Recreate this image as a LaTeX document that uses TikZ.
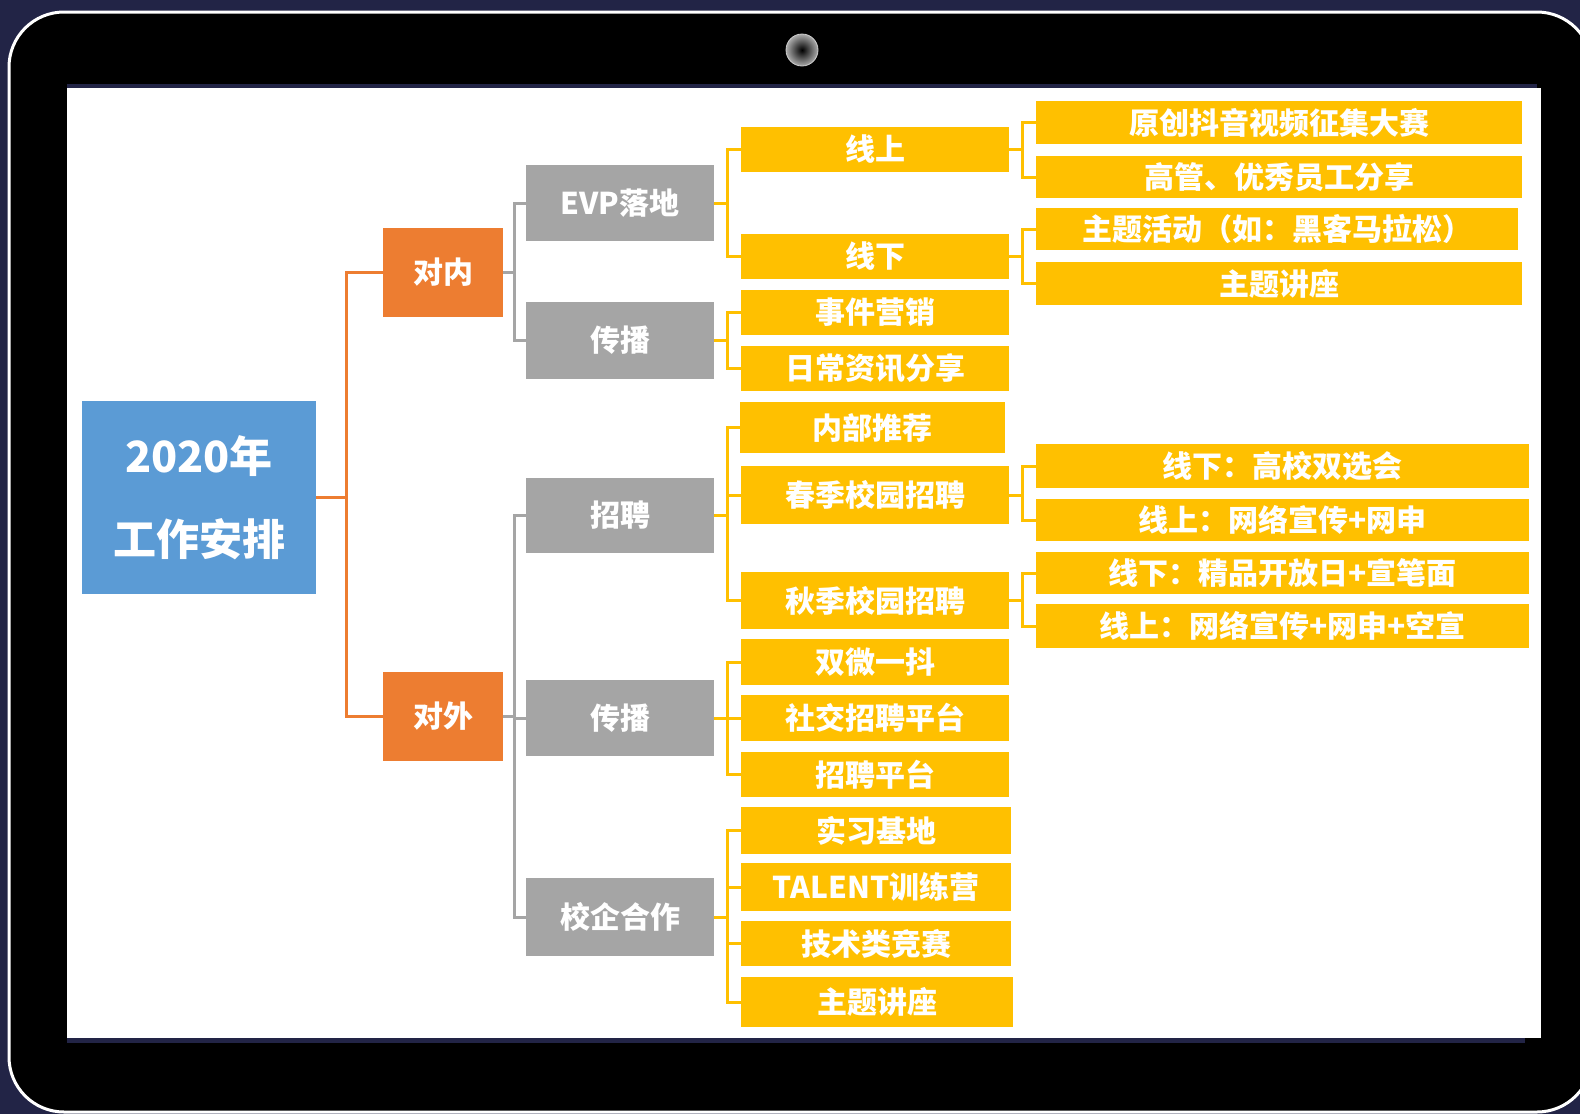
\documentclass[tikz,border=0pt]{standalone}
\usepackage{fontspec}
\setmainfont{Noto Sans CJK SC}

\definecolor{Navy}{RGB}{34,36,70}
\definecolor{RootBlue}{RGB}{91,155,213}
\definecolor{SideOrange}{RGB}{237,125,49}
\definecolor{GroupGray}{RGB}{165,165,165}
\definecolor{ItemYellow}{RGB}{255,192,0}

\begin{document}
\begin{tikzpicture}
	[x=0.5pt, y=-0.5pt,
	 box/.style={inner sep=0pt, text=white, font=\bfseries\fontsize{15}{18}\selectfont},
	 rootbox/.style={box, fill=RootBlue, align=center, font=\bfseries\fontsize{21.5}{26}\selectfont},
	 sidebox/.style={box, fill=SideOrange},
	 groupbox/.style={box, fill=GroupGray},
	 itembox/.style={box, fill=ItemYellow},
	 link/.style={line width=1.5pt}]

	\useasboundingbox (0,0) rectangle (1580,1114);

	% tablet
	\begin{scope}
		\clip (0,0) rectangle (1580,1114);
		\fill[Navy] (0,0) rectangle (1580,1114);
		\draw[white, line width=1.5pt, fill=black, rounded corners=27.5pt] (9,12) rectangle (1592,1112);

		% screen
		\fill[Navy] (67,84) rectangle (1537,88);
		\fill[Navy] (67,1038) rectangle (1525,1043);
		\fill[white] (67,88) rectangle (1541,1038);

		% camera
		\shade[inner color=black, outer color=gray!65] (802,50) circle (8pt);
		\draw[gray!40, line width=0.4pt] (802,50) circle (8pt);
	\end{scope}

	% root
	\node[rootbox, minimum width=117pt, minimum height=96.5pt] (plan) at (199,497.5) {2020年\\[15.5pt]工作安排};

	% inside / outside
	\foreach \name/\cy/\txt in {internal/272.5/对内, external/716/对外} {
		\node[sidebox, minimum width=60pt, minimum height=44.5pt] (\name) at (443,\cy) {\txt};
	}

	% groups
	\foreach \name/\cy/\h/\txt in {evp/203/76/EVP落地, internalpr/340.5/77/传播, hire/515.5/75/招聘, externalpr/718/76/传播, campus/917/78/校企合作} {
		\node[groupbox, minimum width=94pt, minimum height=\h*0.5pt] (\name) at (620,\cy) {\txt};
	}

	% items
	\foreach \name/\cx/\cy/\w/\h/\txt in {
		online/875/149.5/268/45/线上,
		offline/875/256.5/268/45/线下,
		event/875/312.5/268/45/事件营销,
		daily/875/368.5/268/45/日常资讯分享,
		referral/872.5/427.5/265/51/内部推荐,
		spring/875/495/268/58/春季校园招聘,
		autumn/875/600.5/268/57/秋季校园招聘,
		media/875/662/268/46/双微一抖,
		socialsite/875/718/268/46/社交招聘平台,
		jobsite/875/774.5/268/45/招聘平台,
		intern/876/830.5/270/47/实习基地,
		talent/876/887/270/48/TALENT训练营,
		contest/876/943.5/270/45/技术类竞赛,
		lecture/877/1002/272/50/主题讲座} {
		\node[itembox, minimum width=\w*0.5pt, minimum height=\h*0.5pt] (\name) at (\cx,\cy) {\txt};
	}

	% details
	\foreach \name/\cx/\cy/\w/\h/\txt in {
		video/1279/122.5/486/43/原创抖音视频征集大赛,
		share/1279/177/486/42/高管、优秀员工分享,
		hackathon/1277/229/482/42/主题活动（如：黑客马拉松）,
		talk/1279/283.5/486/43/主题讲座,
		fair/1282.5/466/493/44/线下：高校双选会,
		springweb/1282.5/520/493/42/线上：网络宣传+网申,
		openday/1282.5/573/493/42/线下：精品开放日+宣笔面,
		autumnweb/1282.5/626/493/44/线上：网络宣传+网申+空宣} {
		\node[itembox, minimum width=\w*0.5pt, minimum height=\h*0.5pt] (\name) at (\cx,\cy) {\txt};
	}

	% connectors
	\begin{scope}[link]
		\foreach \child in {internal, external}
			\draw[SideOrange] (plan.east) -- ++(30,0) |- (\child.west);

		\foreach \parent/\child in {internal/evp, internal/internalpr, external/hire, external/externalpr, external/campus}
			\draw[GroupGray] (\parent.east) -- ++(11,0) |- (\child.west);

		\foreach \parent/\child in {evp/online, evp/offline, internalpr/event, internalpr/daily,
				hire/referral, hire/spring, hire/autumn, externalpr/media, externalpr/socialsite, externalpr/jobsite,
				campus/intern, campus/talent, campus/contest, campus/lecture,
				online/video, online/share, offline/hackathon, offline/talk,
				spring/fair, spring/springweb, autumn/openday, autumn/autumnweb}
			\draw[ItemYellow] (\parent.east) -- ++(13,0) |- (\child.west);
	\end{scope}

\end{tikzpicture}
\end{document}
